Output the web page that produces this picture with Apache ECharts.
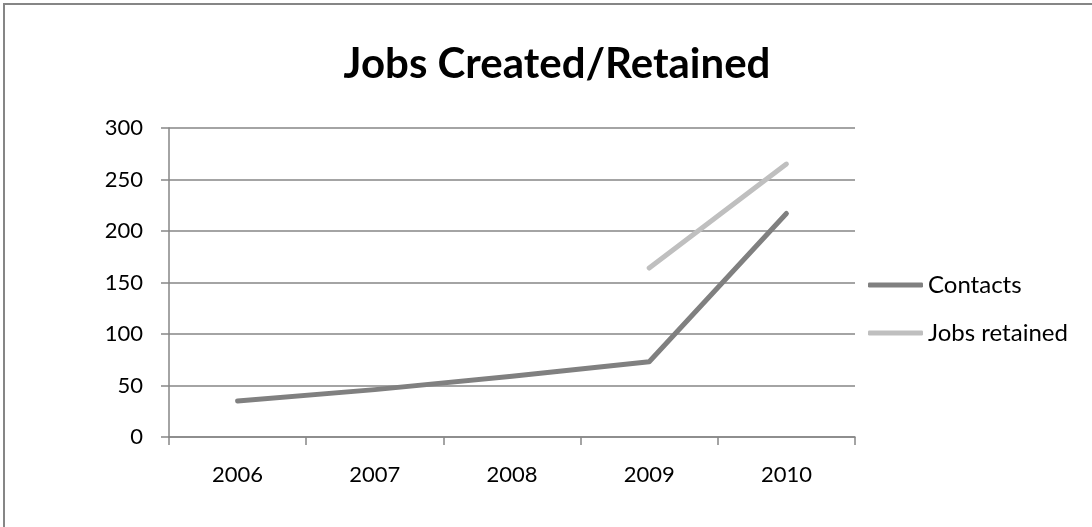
<!DOCTYPE html>
<html>
<head>
<meta charset="utf-8">
<script src="https://cdn.jsdelivr.net/npm/echarts@6/dist/echarts.min.js"></script>
<style>
html,body{margin:0;padding:0;background:#fff;}
#chart{width:1092px;height:527px;}
</style>
</head>
<body>
<div id="chart"></div>
<script>
var categories = ['2006', '2007', '2008', '2009', '2010'];
var contacts = [35, 46, 59, 73, 217];
var jobsRetained = [null, null, null, 164, 265];
var yTicks = [0, 50, 100, 150, 200, 250, 300];

var FONT = 'Lato';
var chart = echarts.init(document.getElementById('chart'));
chart.setOption({
  animation: false,
  backgroundColor: '#fff',
  title: {
    text: 'Jobs Created/Retained',
    left: 552, top: 38, textAlign: 'center',
    textStyle: {fontFamily: FONT, fontWeight: 'bold', fontSize: 42, color: '#000'}
  },
  graphic: [{
    type: 'rect', shape: {x: 4, y: 4, width: 1200, height: 700},
    style: {fill: 'none', stroke: '#868686', lineWidth: 2}, silent: true
  }],
  legend: {
    orient: 'vertical', left: 863, top: 268, itemGap: 24,
    itemWidth: 55, itemHeight: 5,
    icon: 'roundRect',
    textStyle: {fontFamily: FONT, fontSize: 24, color: '#000'},
    data: ['Contacts', 'Jobs retained']
  },
  grid: {left: 169, right: 237, top: 128, bottom: 90, containLabel: false},
  xAxis: {
    type: 'category', data: categories, boundaryGap: true,
    axisLine: {lineStyle: {color: '#868686', width: 1.5}},
    axisTick: {show: true, length: 8, lineStyle: {color: '#868686', width: 1.5}},
    axisLabel: {fontFamily: FONT, fontSize: 22, color: '#000', margin: 27}
  },
  yAxis: {
    type: 'value', min: yTicks[0], max: yTicks[yTicks.length - 1], interval: 50,
    axisLine: {show: true, lineStyle: {color: '#868686', width: 1.5}},
    axisTick: {show: true, length: 8, lineStyle: {color: '#868686', width: 1.5}},
    axisLabel: {fontFamily: FONT, fontSize: 22, color: '#000', margin: 26},
    splitLine: {lineStyle: {color: '#868686', width: 1.5}}
  },
  series: [{
    name: 'Contacts', type: 'line', data: contacts, symbol: 'none',
    lineStyle: {color: '#808080', width: 5, cap: 'round', join: 'round'},
    itemStyle: {color: '#808080'}
  }, {
    name: 'Jobs retained', type: 'line', data: jobsRetained, symbol: 'none',
    lineStyle: {color: '#bfbfbf', width: 5, cap: 'round', join: 'round'},
    itemStyle: {color: '#bfbfbf'}
  }]
});
</script>
</body>
</html>
